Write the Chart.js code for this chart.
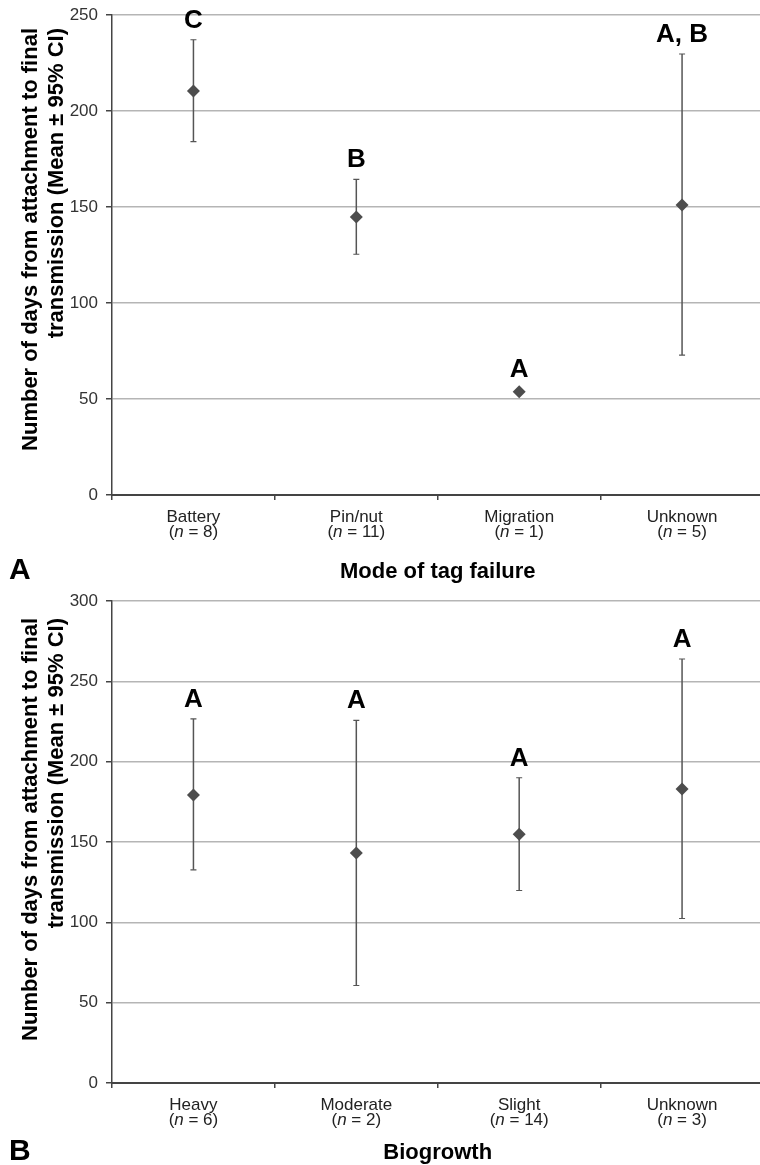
<!DOCTYPE html>
<html>
<head>
<meta charset="utf-8">
<script src="https://cdn.jsdelivr.net/npm/chart.js@4/dist/chart.umd.min.js"></script>
<style>
  html, body { margin: 0; padding: 0; background: #fff; width: 760px; height: 1165px; overflow: hidden; }
  .panel { position: absolute; left: 0; }
  canvas { display: block; }
</style>
</head>
<body>
<div class="panel" style="top:0"><canvas id="chartA" width="770" height="590"></canvas></div>
<div class="panel" style="top:590px"><canvas id="chartB" width="770" height="575"></canvas></div>
<script>
// Panel A - mode of tag failure
const failureModes = ['Battery', 'Pin/nut', 'Migration', 'Unknown'];
const failureN = [8, 11, 1, 5];
const failureMean = [210.4, 144.8, 53.8, 151.0];
const failureUpper = [237.1, 164.4, null, 229.7];
const failureLower = [184.0, 125.4, null, 72.9];
const failureLetters = ['C', 'B', 'A', 'A, B'];

// Panel B - biogrowth
const biogrowth = ['Heavy', 'Moderate', 'Slight', 'Unknown'];
const biogrowthN = [6, 2, 14, 3];
const biogrowthMean = [179.3, 143.2, 154.9, 183.0];
const biogrowthUpper = [226.6, 225.7, 190.0, 263.9];
const biogrowthLower = [132.7, 60.7, 119.8, 102.4];
const biogrowthLetters = ['A', 'A', 'A', 'A'];

const yTitle = ['Number of days from attachment to final', 'transmission (Mean \u00b1 95% CI)'];
const FONT = 'Arial, "Liberation Sans", Helvetica, sans-serif';

const errorBarPlugin = {
    id: 'errorBars',
    beforeDatasetsDraw(chart, args, opts) {
        const ctx = chart.ctx;
        const x = chart.scales.x, y = chart.scales.y;
        ctx.save();
        ctx.strokeStyle = '#555';
        opts.upper.forEach((up, i) => {
            const lo = opts.lower[i];
            if (up == null || lo == null) return;
            const px = x.getPixelForValue(i);
            const pu = y.getPixelForValue(up);
            const pl = y.getPixelForValue(lo);
            ctx.lineWidth = 1.5;
            ctx.beginPath();
            ctx.moveTo(px, pu);
            ctx.lineTo(px, pl);
            ctx.stroke();
            ctx.lineWidth = 1.2;
            ctx.beginPath();
            ctx.moveTo(px - 3, pu); ctx.lineTo(px + 3, pu);
            ctx.moveTo(px - 3, pl); ctx.lineTo(px + 3, pl);
            ctx.stroke();
        });
        ctx.restore();
    },
    afterDraw(chart, args, opts) {
        const ctx = chart.ctx;
        const x = chart.scales.x, y = chart.scales.y;
        const area = chart.chartArea;
        ctx.save();
        ctx.fillStyle = '#000';

        // significance letters
        ctx.font = 'bold 26px ' + FONT;
        ctx.textAlign = 'center';
        ctx.textBaseline = 'alphabetic';
        opts.letters.forEach((t, i) => {
            const px = x.getPixelForValue(i);
            const up = opts.upper[i];
            const py = up != null ? y.getPixelForValue(up) - 12 : y.getPixelForValue(opts.mean[i]) - 15;
            ctx.fillText(t, px, py);
        });

        // category labels with italic n
        ctx.fillStyle = '#222';
        opts.categories.forEach((c, i) => {
            const px = x.getPixelForValue(i);
            ctx.font = '17px ' + FONT;
            ctx.textAlign = 'center';
            ctx.fillText(c, px, area.bottom + 27);
            const a = '(', b = 'n', rest = ' = ' + opts.n[i] + ')';
            const wa = ctx.measureText(a).width, wr = ctx.measureText(rest).width;
            ctx.font = 'italic 17px ' + FONT;
            const wb = ctx.measureText(b).width;
            const sx = px - (wa + wb + wr) / 2;
            const by = area.bottom + 42;
            ctx.textAlign = 'left';
            ctx.font = '17px ' + FONT;
            ctx.fillText(a, sx, by);
            ctx.font = 'italic 17px ' + FONT;
            ctx.fillText(b, sx + wa, by);
            ctx.font = '17px ' + FONT;
            ctx.fillText(rest, sx + wa + wb, by);
        });

        // x axis title and panel letter
        ctx.fillStyle = '#000';
        ctx.font = 'bold 22px ' + FONT;
        ctx.textAlign = 'center';
        ctx.fillText(opts.xTitle, (area.left + area.right) / 2, opts.titleBaseline);
        ctx.font = 'bold 30px ' + FONT;
        ctx.textAlign = 'left';
        ctx.fillText(opts.panel, 9, opts.titleBaseline + 1);

        // y axis title, two lines aligned at the top
        ctx.font = 'bold 22px ' + FONT;
        ctx.textAlign = 'right';
        ctx.textBaseline = 'middle';
        [31, 57].forEach((lx, k) => {
            ctx.save();
            ctx.translate(lx, 28);
            ctx.rotate(-Math.PI / 2);
            ctx.fillText(yTitle[k], 0, 0);
            ctx.restore();
        });
        ctx.restore();
    }
};

function makeChart(id, cfg) {
    const canvas = document.getElementById(id);
    const H = canvas.height;
    return new Chart(canvas.getContext('2d'), {
        type: 'line',
        data: {
            labels: cfg.categories,
            datasets: [{
                data: cfg.mean,
                showLine: false,
                pointStyle: 'rectRot',
                pointRadius: 6.5,
                pointBackgroundColor: '#4d4d4d',
                pointBorderColor: '#4d4d4d',
                pointBorderWidth: 0,
            }]
        },
        options: {
            responsive: false,
            animation: false,
            layout: { padding: { top: cfg.top, right: 4, left: 0, bottom: 0 } },
            plugins: {
                legend: { display: false },
                tooltip: { enabled: false },
                errorBars: cfg,
            },
            scales: {
                x: {
                    offset: true,
                    afterFit: (s) => { s.height = H - cfg.bottom; s.paddingLeft = 0; s.paddingRight = 0; },
                    grid: { drawOnChartArea: false, drawTicks: true, tickLength: 5, offset: true, color: '#444', lineWidth: 1.5 },
                    border: { color: '#444', width: 2 },
                    ticks: { color: 'rgba(0,0,0,0)', font: { size: 16 } },
                },
                y: {
                    min: 0,
                    max: cfg.max,
                    afterFit: (s) => { s.width = 112; s.paddingTop = 0; s.paddingBottom = 0; },
                    ticks: { stepSize: 50, color: '#333', padding: 8, font: { size: 17, family: FONT } },
                    grid: { color: '#b5b5b5', lineWidth: 1.5, tickLength: 6, tickColor: '#444' },
                    border: { color: '#444', width: 1.5 },
                }
            }
        },
        plugins: [errorBarPlugin]
    });
}

makeChart('chartA', {
    categories: failureModes, n: failureN, mean: failureMean,
    upper: failureUpper, lower: failureLower, letters: failureLetters,
    xTitle: 'Mode of tag failure', panel: 'A', max: 250,
    top: 15, bottom: 495, titleBaseline: 578,
});

makeChart('chartB', {
    categories: biogrowth, n: biogrowthN, mean: biogrowthMean,
    upper: biogrowthUpper, lower: biogrowthLower, letters: biogrowthLetters,
    xTitle: 'Biogrowth', panel: 'B', max: 300,
    top: 11, bottom: 493, titleBaseline: 569,
});
</script>
</body>
</html>
